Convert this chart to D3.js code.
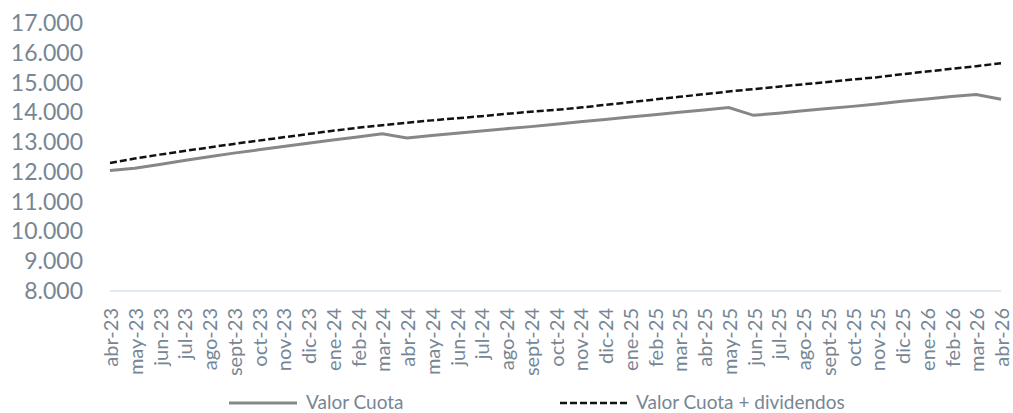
<!DOCTYPE html>
<html>
<head>
<meta charset="utf-8">
<script src="https://cdn.jsdelivr.net/npm/d3@7"></script>
<style>
  body { margin: 0; background: #fff; }
  svg text { font-family: Lato, "Open Sans", sans-serif; fill: #768694; }
</style>
</head>
<body>
<figure id="chart" style="margin:0"></figure>
<script>
// months on the x axis
var months = ["abr-23","may-23","jun-23","jul-23","ago-23","sept-23","oct-23","nov-23","dic-23",
  "ene-24","feb-24","mar-24","abr-24","may-24","jun-24","jul-24","ago-24","sept-24","oct-24","nov-24","dic-24",
  "ene-25","feb-25","mar-25","abr-25","may-25","jun-25","jul-25","ago-25","sept-25","oct-25","nov-25","dic-25",
  "ene-26","feb-26","mar-26","abr-26"];

// series values
var valorCuota = [12050,12120,12250,12380,12510,12630,12740,12850,12960,13070,13170,13280,
  13140,13220,13300,13370,13450,13520,13600,13680,13760,13840,13920,14000,14080,14160,
  13900,13970,14050,14130,14200,14280,14370,14450,14530,14600,14440];

var valorDiv = [12300,12450,12580,12700,12820,12940,13050,13160,13270,13380,13480,13570,
  13650,13730,13800,13870,13950,14020,14080,14160,14250,14340,14430,14520,14610,14700,14780,
  14860,14940,15020,15100,15180,15280,15370,15460,15550,15650];

var yTicks = [8000,9000,10000,11000,12000,13000,14000,15000,16000,17000];

var width = 1013, height = 413;

var svg = d3.select("#chart").append("svg")
  .attr("width", width).attr("height", height);

var x = d3.scalePoint().domain(months).range([110, 1001]);
var y = d3.scaleLinear().domain([8000, 17000]).range([291, 23]);

var fmt = d => d3.format(",")(d).replace(/,/g, ".");

// y labels
svg.append("g").selectAll("text").data(yTicks).enter().append("text")
  .attr("x", 83).attr("y", d => y(d))
  .attr("dy", "0.35em").attr("text-anchor", "end")
  .style("font-size", "23px")
  .text(fmt);

// x axis line
svg.append("line")
  .attr("x1", x(months[0])).attr("x2", x(months[months.length - 1]))
  .attr("y1", y(8000)).attr("y2", y(8000))
  .attr("stroke", "#d9e2ec").attr("stroke-width", 1.5);

// x labels, rotated
svg.append("g").selectAll("text").data(months).enter().append("text")
  .attr("transform", d => `translate(${x(d) + 1},${y(8000) + 17}) rotate(-90)`)
  .attr("dy", "0.35em").attr("text-anchor", "end")
  .style("font-size", "20px")
  .text(d => d);

var line = d3.line().x((d, i) => x(months[i])).y(d => y(d));

svg.append("path").datum(valorCuota)
  .attr("d", line).attr("fill", "none")
  .attr("stroke", "#878787").attr("stroke-width", 3);

svg.append("path").datum(valorDiv)
  .attr("d", line).attr("fill", "none")
  .attr("stroke", "#111").attr("stroke-width", 2.5)
  .attr("stroke-dasharray", "7,3");

// legend
var legend = svg.append("g");
legend.append("line").attr("x1", 229).attr("x2", 297).attr("y1", 403).attr("y2", 403)
  .attr("stroke", "#878787").attr("stroke-width", 3);
legend.append("text").attr("x", 306).attr("y", 402).attr("dy", "0.35em")
  .style("font-size", "19px").text("Valor Cuota");
legend.append("line").attr("x1", 560).attr("x2", 628).attr("y1", 403).attr("y2", 403)
  .attr("stroke", "#111").attr("stroke-width", 2.5).attr("stroke-dasharray", "7,3");
legend.append("text").attr("x", 636).attr("y", 402).attr("dy", "0.35em")
  .style("font-size", "19px").text("Valor Cuota + dividendos");
</script>
</body>
</html>
